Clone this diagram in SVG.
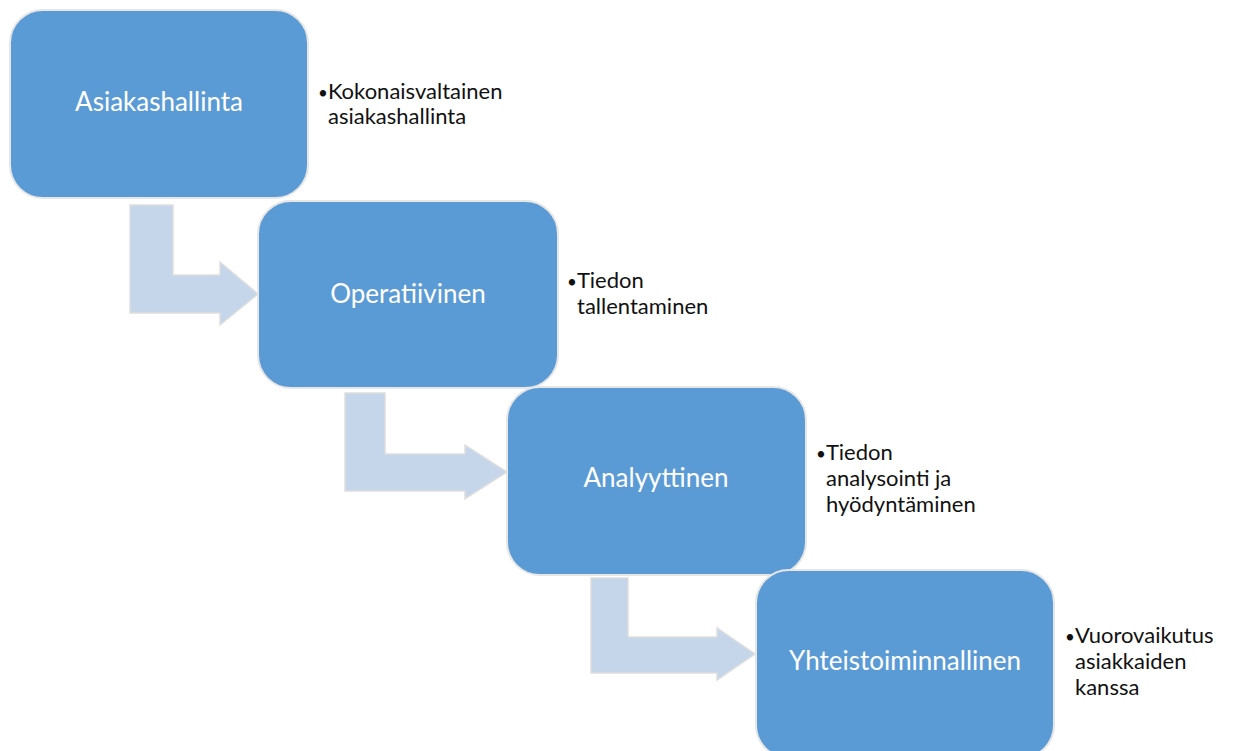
<svg xmlns="http://www.w3.org/2000/svg" width="1239" height="751" viewBox="0 0 1239 751">
<style>
.box{fill:#5B9BD5;stroke:#e6e6e6;stroke-width:2}
.arr{fill:#C5D5EA;stroke:#dedede;stroke-width:1.5}
.lbl{font-family:Lato,"Liberation Sans",sans-serif;font-size:26px;fill:#ffffff;text-anchor:middle}
.side{font-family:Lato,"Liberation Sans",sans-serif;font-size:22px;fill:#111111}
.bul{font-size:17px}
</style>
<rect width="1239" height="751" fill="#ffffff"/>
<g id="connectors">
<path class="arr" d="M130,205 L173,205 L173,275 L220,275 L220,262 L258,294 L220,325 L220,313 L130,313 Z"/>
<path class="arr" d="M345,393 L385,393 L385,454 L465,454 L465,445 L507,472 L465,499 L465,491 L345,491 Z"/>
<path class="arr" d="M591,578 L628,578 L628,637 L717,637 L717,628 L755,654 L717,680 L717,673 L591,673 Z"/>
</g>
<g id="node1">
<rect class="box" x="10" y="10" width="298" height="188" rx="33"/>
<text class="lbl" x="159" y="111">Asiakashallinta</text>
<text class="side" x="318" y="99"><tspan class="bul">•</tspan>Kokonaisvaltainen</text>
<text class="side" x="328" y="124">asiakashallinta</text>
</g>
<g id="node2">
<rect class="box" x="258" y="201" width="300" height="187" rx="33"/>
<text class="lbl" x="408" y="303">Operatiivinen</text>
<text class="side" x="567" y="288"><tspan class="bul">•</tspan>Tiedon</text>
<text class="side" x="577" y="314">tallentaminen</text>
</g>
<g id="node3">
<rect class="box" x="507" y="387" width="299" height="188" rx="33"/>
<text class="lbl" x="656" y="487">Analyyttinen</text>
<text class="side" x="816" y="460"><tspan class="bul">•</tspan>Tiedon</text>
<text class="side" x="826" y="486">analysointi ja</text>
<text class="side" x="826" y="512">hyödyntäminen</text>
</g>
<g id="node4">
<rect class="box" x="756" y="570" width="298" height="188" rx="33"/>
<text class="lbl" x="905" y="670">Yhteistoiminnallinen</text>
<text class="side" x="1065" y="643"><tspan class="bul">•</tspan>Vuorovaikutus</text>
<text class="side" x="1075" y="669">asiakkaiden</text>
<text class="side" x="1075" y="695">kanssa</text>
</g>
</svg>
